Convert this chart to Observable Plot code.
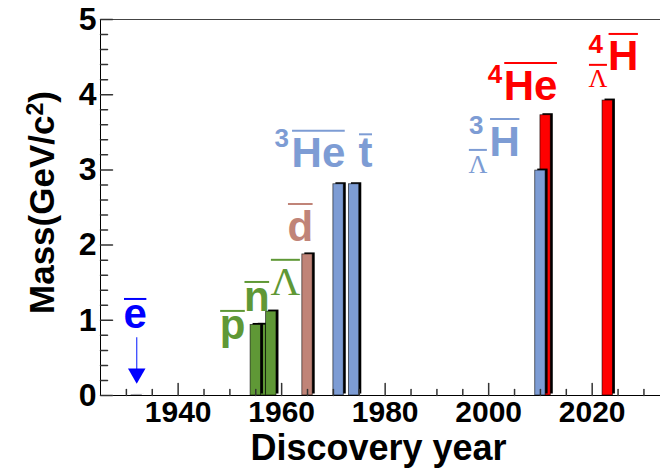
<!DOCTYPE html>
<html><head><meta charset="utf-8">
<script src="https://cdn.jsdelivr.net/npm/d3@7"></script>
<script src="https://cdn.jsdelivr.net/npm/@observablehq/plot@0.6"></script>
<style>html,body{margin:0;padding:0;background:#fff} svg{display:block}</style>
</head><body><div id="chart"></div>
<script>
// ---- data (bars are listed in drawing order) ----
const particles = ["e+", "n̄", "p̄", "Λ̄", "d̄", "3He̅", "t̄", "4He̅", "3ΛH̅", "4ΛH̅"];
const years = [1932, 1956, 1955, 1958, 1965, 1971, 1974, 2011, 2010, 2023];
const masses = [0.000511, 0.940, 0.938, 1.116, 1.876, 2.809, 2.809, 3.727, 2.991, 3.922];
const families = ["lepton", "nucleon", "nucleon", "nucleon", "deuteron", "A3", "A3", "A4", "A3", "A4"];

const familyNames = ["lepton", "nucleon", "deuteron", "A3", "A4"];
const familyColors = ["#0000ff", "#5f9836", "#c08478", "#7d9cd4", "#ff0000"];

// label pieces, anchored in data coordinates (year, mass)
const labelParts = ["e", "p", "n", "Λ", "d", "3", "He", "t", "3", "Λ", "H", "4", "He", "4", "Λ", "H"];
const labelRoles = ["main", "main", "main", "lambda", "main", "sup", "main", "main", "sup", "sub", "main", "sup", "main", "sup", "sub", "main"];
const labelFamilies = ["lepton", "nucleon", "nucleon", "nucleon", "deuteron", "A3", "A3", "A3", "A3", "A3", "A3", "A4", "A4", "A4", "A4", "A4"];
const labelYears = [1931.7, 1950.5, 1955.2, 1960.7, 1963.6, 1960.0, 1967.1, 1976.2, 1997.6, 1997.9, 2003.1, 2001.2, 2008.1, 2020.7, 2021.1, 2026.0];
const labelMasses = [0.904, 0.745, 1.130, 1.330, 2.061, 3.302, 3.036, 3.032, 3.484, 2.965, 3.191, 4.162, 3.936, 4.561, 4.096, 4.322];

// arrow pointing at the positron bar
const arrowYears = [1932];
const arrowStarts = [0.775];
const arrowEnds = [0.2];

// axes
const xTickLabels = [1940, 1960, 1980, 2000, 2020];
const yTickLabels = [0, 1, 2, 3, 4, 5];
const xTitle = "Discovery year";
const yTitle = "Mass(GeV/c²)";

// ---- build ----
const colorOf = f => familyColors[familyNames.indexOf(f)];
const bars = particles.map((name, i) => ({name, year: years[i], mass: masses[i], family: families[i]}));
const labels = labelParts.map((text, i) => ({text, role: labelRoles[i], family: labelFamilies[i], year: labelYears[i], mass: labelMasses[i]}));

const xMinor = d3.range(1930, 2031, 5).filter(v => v % 20 !== 0);
const yMinor = d3.range(0, 26).filter(i => i % 5 !== 0).map(i => i / 5);
const tick = {draw(context, l) { context.moveTo(0, 0); context.lineTo(0, -l); }};

const barMarks = bars.flatMap(b => [
  Plot.rect([b], {x1: d => d.year - 1, x2: d => d.year + 1, y1: 0, y2: d => d.mass, fill: "#000", dx: 2.5, dy: -1.5}),
  Plot.rect([b], {x1: d => d.year - 1, x2: d => d.year + 1, y1: 0, y2: d => d.mass, fill: d => colorOf(d.family), stroke: "#000", strokeWidth: 0.8, strokeOpacity: 0.7})
]);

const textMark = (role, opts) => Plot.text(labels.filter(d => d.role === role), {
  x: "year", y: "mass", text: "text", fill: d => colorOf(d.family),
  lineAnchor: "bottom", textAnchor: "middle", ...opts
});

const arrows = arrowYears.map((y, i) => ({year: y, from: arrowStarts[i], to: arrowEnds[i]}));

const chart = Plot.plot({
  width: 660, height: 472,
  marginLeft: 100, marginRight: 0, marginTop: 19, marginBottom: 77,
  style: {fontFamily: "'Liberation Sans', Arial, sans-serif", background: "#fff", color: "#000"},
  x: {domain: [1925, 2033.2]},
  y: {domain: [0, 5]},
  color: {type: "identity"},
  marks: [
    ...barMarks,
    // frame
    Plot.ruleY([5], {stroke: "#444", strokeWidth: 1}),
    Plot.ruleY([0], {stroke: "#000", strokeWidth: 1}),
    Plot.ruleX([1925], {stroke: "#000", strokeWidth: 1}),
    // inward ticks
    Plot.vector(yTickLabels, {x: () => 1925, y: d => d, length: 12, rotate: 90, anchor: "start", shape: tick, stroke: "#333"}),
    Plot.vector(yMinor, {x: () => 1925, y: d => d, length: 7, rotate: 90, anchor: "start", shape: tick, stroke: "#333"}),
    Plot.vector(xTickLabels, {x: d => d, y: () => 0, length: 12, rotate: 0, anchor: "start", shape: tick, stroke: "#333"}),
    Plot.vector(xMinor, {x: d => d, y: () => 0, length: 6, rotate: 0, anchor: "start", shape: tick, stroke: "#333"}),
    // tick labels
    Plot.axisY({ticks: yTickLabels, tickSize: 0, tickPadding: 4, fontSize: 32, fontWeight: "bold", label: null, tickFormat: d => String(d)}),
    Plot.axisX({ticks: xTickLabels, tickSize: 0, tickPadding: 5, fontSize: 30, fontWeight: "bold", label: null, tickFormat: d => String(d)}),
    // titles
    Plot.text([xTitle], {text: d => d, frameAnchor: "bottom", lineAnchor: "bottom", textAnchor: "middle", dy: 64, dx: -2, fontSize: 36, fontWeight: "bold", fill: "#000"}),
    Plot.text([yTitle], {text: d => d, frameAnchor: "left", textAnchor: "middle", lineAnchor: "middle", rotate: -90, dx: -58, dy: -5, fontSize: 35, fontWeight: "bold", fill: "#000", className: "ytitle"}),
    // arrow for the positron
    Plot.link(arrows, {x1: "year", x2: "year", y1: "from", y2: "to", stroke: "#2a3cff", strokeWidth: 1.2}),
    Plot.dot(arrows, {x: "year", y: "to", symbol: "triangle", rotate: 180, r: 6.5, fill: "#0000ff", stroke: "none", dy: -6.9}),
    // particle labels
    textMark("main", {fontSize: 42, fontWeight: "bold", className: "ov"}),
    textMark("lambda", {fontSize: 41, fontFamily: "'Liberation Serif', serif", className: "ov"}),
    textMark("sub", {fontSize: 26, fontFamily: "'Liberation Serif', serif", className: "ov"}),
    textMark("sup", {fontSize: 26, fontWeight: "bold"})
  ]
});

document.getElementById("chart").append(chart);

// real superscript for the "2" in the y title
chart.querySelectorAll("g.ytitle text").forEach(t => {
  const s = t.textContent;
  const i = s.indexOf("²");
  if (i < 0) return;
  const NS = "http://www.w3.org/2000/svg";
  t.textContent = s.slice(0, i);
  const sup = document.createElementNS(NS, "tspan");
  sup.setAttribute("font-size", "0.66em");
  sup.setAttribute("dy", "-0.45em");
  sup.textContent = "2";
  const rest = document.createElementNS(NS, "tspan");
  rest.setAttribute("dy", "0.3em");
  rest.textContent = s.slice(i + 1);
  t.append(sup, rest);
});

// overbars above the antiparticle symbols
chart.querySelectorAll("g.ov text").forEach(t => {
  const bb = t.getBBox();
  const p = t.getStartPositionOfChar(0);
  const cs = getComputedStyle(t);
  const fs = parseFloat(cs.fontSize);
  const s = t.textContent;
  const k = /^[acemnoprsuvwxz]+$/.test(s) ? 0.68 : s === "t" ? 0.79 : 0.87;
  const line = document.createElementNS("http://www.w3.org/2000/svg", "line");
  line.setAttribute("x1", bb.x + 0.5);
  line.setAttribute("x2", bb.x + bb.width - 0.5);
  line.setAttribute("y1", p.y - k * fs);
  line.setAttribute("y2", p.y - k * fs);
  line.setAttribute("stroke", cs.fill);
  line.setAttribute("stroke-width", 2);
  const tr = t.getAttribute("transform");
  if (tr) line.setAttribute("transform", tr);
  t.parentNode.appendChild(line);
});
</script>
</body></html>
